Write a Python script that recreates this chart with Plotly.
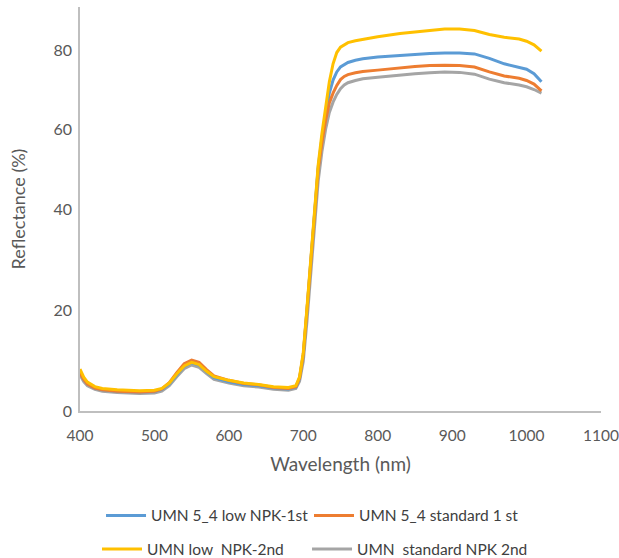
import plotly.graph_objects as go

wavelength = [400, 405, 410, 420, 430, 450, 480, 500, 510, 520, 530, 540, 550, 560, 570, 580,
              600, 620, 640, 660, 680, 690, 695, 700, 705, 710, 715, 720, 725, 730, 735, 740,
              745, 750, 755, 760, 770, 780, 800, 830, 850, 870, 890, 910, 930, 950, 970, 990,
              1000, 1010, 1020]

low_npk_1st = [8.6, 7.0, 6.0, 5.1, 4.7, 4.4, 4.2, 4.3, 4.8, 6.0, 8.0, 9.9, 10.7, 10.2, 8.7, 7.4,
               6.5, 5.9, 5.6, 5.1, 4.9, 5.3, 7.2, 12.5, 22.5, 33.5, 44.5, 54.0, 60.5, 66.0, 70.5, 73.4,
               75.2, 76.3, 76.9, 77.3, 77.8, 78.1, 78.5, 78.9, 79.1, 79.3, 79.4, 79.4, 79.2, 78.2, 77.0, 76.3,
               75.8, 74.8, 73.0]

standard_1st = [8.5, 7.0, 6.0, 5.1, 4.7, 4.4, 4.2, 4.4, 4.9, 6.3, 8.5, 10.5, 11.3, 10.8, 9.2, 7.8,
                6.8, 6.1, 5.8, 5.2, 5.0, 5.4, 7.3, 12.5, 22.5, 33.5, 44.5, 53.5, 59.5, 64.5, 68.3, 70.5,
                72.2, 73.5, 74.2, 74.6, 75.0, 75.3, 75.6, 76.1, 76.4, 76.6, 76.7, 76.6, 76.3, 75.2, 74.3, 73.8,
                73.3, 72.5, 71.0]

low_npk_2nd = [9.3, 7.5, 6.4, 5.4, 5.0, 4.7, 4.5, 4.6, 5.0, 6.2, 8.2, 10.0, 10.8, 10.3, 8.8, 7.6,
               6.8, 6.2, 5.9, 5.4, 5.2, 5.6, 7.6, 13.0, 23.0, 34.0, 45.0, 54.5, 61.5, 67.5, 73.0, 77.0,
               79.5, 80.7, 81.3, 81.7, 82.1, 82.4, 83.0, 83.7, 84.1, 84.4, 84.7, 84.7, 84.4, 83.5, 82.9, 82.5,
               82.0, 81.2, 79.8]

standard_2nd = [8.0, 6.5, 5.6, 4.8, 4.4, 4.1, 3.9, 4.0, 4.4, 5.6, 7.6, 9.4, 10.2, 9.7, 8.3, 7.0,
                6.2, 5.6, 5.3, 4.8, 4.6, 5.0, 6.6, 11.0, 20.0, 30.5, 41.5, 51.0, 57.5, 62.5, 66.2, 68.5,
                70.2, 71.5, 72.3, 72.8, 73.3, 73.7, 74.0, 74.5, 74.8, 75.0, 75.2, 75.1, 74.7, 73.6, 72.8, 72.3,
                71.9, 71.3, 70.5]

series_names = ["UMN 5_4 low NPK-1st", "UMN 5_4 standard 1 st", "UMN low  NPK-2nd", "UMN  standard NPK 2nd"]
series_colors = ["#5B9BD5", "#ED7D31", "#FFC000", "#A5A5A5"]
series_values = [low_npk_1st, standard_1st, low_npk_2nd, standard_2nd]
series_legend = ["legend", "legend2", "legend3", "legend4"]

x_ticks = [400, 500, 600, 700, 800, 900, 1000, 1100]
y_tick_labels = ["0", "20", "40", "60", "80"]
y_tick_positions = [0, 22.4, 44.8, 62.5, 80]

fig = go.Figure()
draw_order = [3, 0, 1, 2]
for i in draw_order:
    fig.add_trace(go.Scatter(
        x=wavelength, y=series_values[i], mode="lines", name=series_names[i],
        line=dict(color=series_colors[i], width=3),
        legend=series_legend[i],
    ))

font_family = "Lato, 'Open Sans', sans-serif"
legend_common = dict(orientation="h", xanchor="left", yanchor="top",
                     xref="container", yref="container", itemwidth=40,
                     font=dict(size=15.5, color="#404040"),
                     bgcolor="rgba(0,0,0,0)")
fig.update_layout(
    width=619, height=558,
    margin=dict(l=80, r=18, t=7, b=147, autoexpand=False),
    paper_bgcolor="white", plot_bgcolor="white",
    font=dict(family=font_family, color="#595959", size=15),
    showlegend=True,
    legend=dict(x=0.1632, y=0.106, **legend_common),
    legend2=dict(x=0.4992, y=0.106, **legend_common),
    legend3=dict(x=0.1567, y=0.046, **legend_common),
    legend4=dict(x=0.4960, y=0.046, **legend_common),
    xaxis=dict(range=[400, 1100], tickvals=x_ticks, showgrid=False, zeroline=False,
               showline=True, linecolor="#BFBFBF", linewidth=1.5, automargin=False,
               ticks="outside", ticklen=10, tickcolor="rgba(0,0,0,0)",
               title=dict(text="Wavelength (nm)", standoff=14, font=dict(size=19, color="#595959")),
               tickfont=dict(size=15.5, color="#595959")),
    yaxis=dict(range=[0, 89.6], tickvals=y_tick_positions, ticktext=y_tick_labels,
               showgrid=False, zeroline=False, automargin=False,
               showline=True, linecolor="#BFBFBF", linewidth=1.5,
               ticks="outside", ticklen=3, tickcolor="rgba(0,0,0,0)",
               title=dict(text="Reflectance (%)", standoff=23, font=dict(size=18, color="#595959")),
               tickfont=dict(size=16, color="#595959")),
)

fig.write_html("out.html", config={"displayModeBar": False},
               post_script="document.body.style.margin='0px';document.body.style.overflow='hidden';")
